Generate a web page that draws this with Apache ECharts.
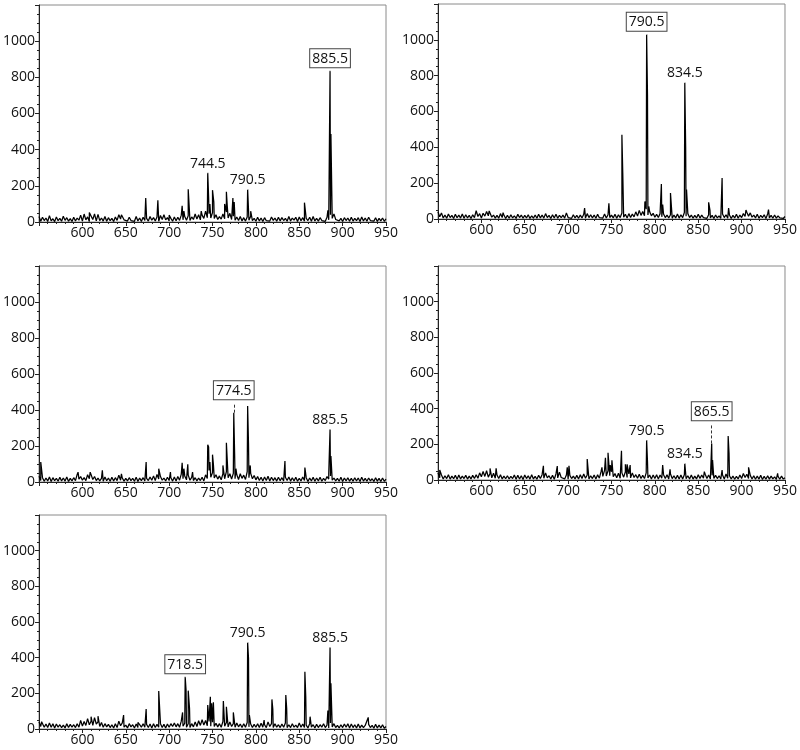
<!DOCTYPE html>
<html>
<head>
<meta charset="utf-8">
<script src="https://cdn.jsdelivr.net/npm/echarts@6/dist/echarts.min.js"></script>
<style>html,body{margin:0;padding:0;background:#fff}#c{width:800px;height:750px}</style>
</head>
<body>
<div id="c"></div>
<script>
// m/z axis and intensity axis
const mzMin = 550, mzMax = 950, mzStep = 50;
const intMin = 0, intMax = 1200, intStep = 200;
const baseStart = 550, baseStep = 2;

// Baseline noise, one value every 2 m/z from 550 to 950
const base1 = [
30,4,26,8,22,3,35,6,18,2,28,7,20,4,32,9,24,5,19,3,
26,6,22,10,38,5,44,12,28,3,50,14,24,6,42,8,22,5,30,4,
24,7,20,3,28,9,40,16,44,12,22,5,26,8,18,4,30,6,22,3,
26,8,20,5,30,10,24,6,28,4,36,14,40,12,24,6,20,4,28,7,
26,9,38,12,30,10,34,8,28,14,44,16,40,12,38,20,60,24,46,22,
52,20,40,14,30,16,44,18,55,22,48,14,32,10,28,8,30,6,24,5,
28,10,32,8,20,4,26,6,22,3,24,7,18,5,28,9,22,4,26,6,
24,8,20,4,30,6,22,10,26,3,28,7,24,5,20,8,26,4,30,6,
20,5,24,8,18,4,26,12,40,20,45,14,24,6,20,3,24,8,22,4,
26,5,20,7,24,3,28,6,22,4,26,8,18,5,24,3,20,6,22,4,
18];
const base2 = [
40,12,34,6,22,4,28,8,20,3,26,7,22,5,28,4,24,6,20,3,
24,8,46,14,30,6,32,16,42,18,36,10,22,5,20,4,30,8,22,3,
20,4,24,6,18,3,26,8,22,4,20,6,24,3,18,5,22,4,26,6,
22,5,30,8,20,3,24,6,26,4,20,7,22,5,34,8,18,4,24,6,
20,4,22,6,26,5,30,8,24,6,22,4,26,7,18,5,28,6,24,8,
22,6,26,4,24,8,34,10,26,6,30,8,28,12,40,16,48,20,42,18,
55,22,40,18,32,10,26,8,30,12,28,8,22,6,24,4,22,6,28,5,
24,8,36,16,30,8,22,4,20,6,26,5,22,8,18,4,24,6,20,3,
22,6,18,4,28,8,24,5,22,3,20,6,26,4,22,8,30,14,38,16,
34,10,22,6,26,4,20,8,24,3,28,6,20,4,22,5,18,6,16,3,
14];
const base3 = [
32,8,24,4,22,6,28,3,24,7,20,4,26,6,22,5,28,3,20,6,
24,8,42,16,30,10,24,8,40,18,44,14,30,8,22,6,20,4,28,7,
22,4,26,6,24,8,38,10,22,5,20,6,24,8,20,4,26,3,22,8,
24,6,20,8,28,10,34,8,42,16,30,10,22,6,26,8,24,5,28,6,
30,10,44,18,34,12,38,10,26,8,24,6,22,8,26,6,40,20,64,26,
52,22,40,16,34,12,46,18,58,24,46,16,48,18,40,14,46,20,38,14,
58,24,48,18,36,12,30,8,26,6,28,8,32,6,26,8,24,5,26,7,
24,6,26,8,28,5,24,6,26,4,20,6,28,8,24,3,22,6,26,4,
22,6,26,4,20,8,30,16,34,10,22,6,20,4,26,3,22,6,24,5,
20,4,24,6,22,3,26,5,20,4,22,6,18,3,24,5,20,3,22,4,
16];
const base4 = [
40,12,28,6,24,8,30,5,22,7,26,4,28,6,22,8,26,5,22,6,
26,8,30,10,40,18,48,20,52,16,36,12,38,10,28,8,30,6,22,7,
24,6,20,8,28,4,26,6,24,3,28,8,24,5,30,6,20,4,26,8,
30,10,40,12,24,6,26,4,34,12,44,14,24,6,28,5,26,8,22,6,
26,6,30,8,34,10,28,6,24,8,28,6,30,10,48,20,54,22,52,24,
46,18,36,12,38,10,40,16,46,14,34,12,40,14,30,10,32,8,26,8,
40,12,28,6,28,8,30,5,28,10,30,8,30,6,34,8,24,6,26,5,
28,6,30,8,24,6,28,5,22,6,30,8,28,10,32,8,28,6,26,8,
26,8,24,6,28,5,34,10,24,6,22,4,20,6,28,8,36,14,32,8,
26,6,24,4,22,5,26,3,20,4,24,5,22,6,18,3,20,4,22,5,
12];
const base5 = [
40,14,36,10,28,8,34,10,30,6,28,10,24,8,22,6,30,8,26,10,
24,8,30,10,48,16,42,20,58,24,44,20,64,28,40,14,36,10,30,12,
26,8,24,6,30,8,44,18,34,10,22,6,30,12,24,6,28,8,24,10,
30,10,26,8,28,6,30,8,26,10,30,8,26,6,28,10,30,14,34,12,
30,10,44,16,32,10,30,8,30,12,40,14,46,20,52,22,48,18,42,16,
38,14,32,12,30,10,42,16,36,12,40,14,30,10,34,12,28,8,30,10,
36,12,28,8,26,10,30,8,32,10,24,8,40,14,30,8,30,10,24,8,
28,10,34,8,24,8,30,10,22,8,34,10,28,8,22,6,30,10,24,6,
26,8,24,10,30,8,22,6,34,12,30,8,20,6,24,8,28,10,30,6,
28,8,24,6,28,6,22,8,20,10,26,8,20,4,26,6,22,6,24,4,
14];

// Peaks [m/z, intensity]
const peaks1 = [[599,42],[608,52],[614,45],[645,40],[673,133],[687,120],[700,38],[715,89],[717,60],[722,181],[737,60],[744.5,272],[745.5,140],[747,100],[750,176],[751.5,110],[764,100],[766,167],[767,90],[773.5,133],[775,110],[790.5,181],[794,60],[810,35],[856,107],[883,65],[885.5,837],[886.5,487],[887.5,172]];
const peaks2 = [[595,50],[609,45],[625,35],[719,61],[747,87],[762,470],[763,257],[788.5,98],[790.5,1031],[791.5,693],[793,70],[794.5,50],[807.5,195],[809,80],[818,145],[834.5,762],[835.5,402],[836.5,164],[862,93],[863.5,50],[877.5,229],[885,61],[905,50],[931,52]];
const peaks3 = [[552,111],[595,55],[609,55],[623,65],[645,45],[673.5,111],[688,74],[701.5,55],[715,107],[717,74],[721.5,98],[727,55],[744.5,207],[745.5,194],[747,111],[750,152],[751,100],[762,92],[766,218],[774.5,385],[775.5,157],[777,74],[790.5,422],[791.5,213],[793.5,92],[795,55],[833.5,117],[856.5,80],[884,46],[885.5,293],[886.5,144]];
const peaks4 = [[552,56],[610,65],[617,65],[671.5,80],[687.5,78],[699,71],[701,80],[715.5,37],[722,118],[739,71],[743,125],[746,153],[748.5,84],[750.5,110],[761.5,164],[766,88],[768,88],[771.5,84],[790.5,224],[791.5,103],[809,84],[817.5,60],[834.5,93],[857,47],[865.5,205],[866.5,112],[877.5,56],[884.5,247],[885.5,150],[908,71],[941.5,37]];
const peaks5 = [[553,41],[610,69],[618,72],[647.5,78],[664,37],[673.5,112],[688,213],[715.5,93],[718.5,293],[719.5,219],[722,215],[723.5,116],[739.5,60],[744.5,135],[747.5,181],[749,144],[751,150],[762.5,157],[766,125],[774,93],[790.5,486],[791.5,396],[792.5,78],[809.5,50],[818.5,166],[819.5,112],[834.5,191],[835.5,116],[856.5,321],[857.5,181],[862.5,69],[883,103],[885.5,458],[886.5,256],[929.5,65]];

// Annotated peaks (m/z labels) and the boxed main ion of each panel
const labels1 = ['885.5','744.5','790.5'];
const labels2 = ['790.5','834.5'];
const labels3 = ['774.5','885.5'];
const labels4 = ['790.5','834.5','865.5'];
const labels5 = ['718.5','790.5','885.5'];
const boxed1 = '885.5', boxed2 = '790.5', boxed3 = '774.5', boxed4 = '865.5', boxed5 = '718.5';
// Raised box height (intensity units) for dashed leader lines
const lifted3 = {'774.5': 440};
const lifted4 = {'865.5': 315};

const FONT = '"Open Sans", "DejaVu Sans", sans-serif';
const TXT = '#111';

const grids = [
  {left:37, top:5, width:349, height:217},
  {left:438, top:4, width:349, height:215},
  {left:37, top:266, width:349, height:216},
  {left:438, top:266, width:349, height:214},
  {left:37, top:515, width:349, height:214}
];
const panels = [
  {base:base1, peaks:peaks1, labels:labels1, boxed:boxed1, lifted:{}},
  {base:base2, peaks:peaks2, labels:labels2, boxed:boxed2, lifted:{}},
  {base:base3, peaks:peaks3, labels:labels3, boxed:boxed3, lifted:lifted3},
  {base:base4, peaks:peaks4, labels:labels4, boxed:boxed4, lifted:lifted4},
  {base:base5, peaks:peaks5, labels:labels5, boxed:boxed5, lifted:{}}
];

function buildLine(base, peaks){
  const pts = base.map((v,i)=>[baseStart + baseStep*i, v]);
  peaks.forEach(p=>pts.push([p[0], p[1]]));
  pts.sort((a,b)=>a[0]-b[0]);
  return pts;
}

const option = {
  animation:false,
  backgroundColor:'#fff',
  grid: grids.map(g=>Object.assign({show:true, borderColor:'#8a8a8a', borderWidth:1, backgroundColor:'transparent'}, g)),
  xAxis: grids.map((g,i)=>({
    type:'value', gridIndex:i, min:mzMin, max:mzMax, interval:mzStep,
    axisLine:{show:true, lineStyle:{color:'#222', width:1}},
    axisTick:{show:true, length:4, lineStyle:{color:'#222'}},
    minorTick:{show:true, splitNumber:5, length:2, lineStyle:{color:'#222'}},
    axisLabel:{showMinLabel:false, fontSize:14, margin:4, color:TXT, fontFamily:FONT,
      formatter:v=>String(v)},
    splitLine:{show:false}
  })),
  yAxis: grids.map((g,i)=>({
    type:'value', gridIndex:i, min:intMin, max:intMax, interval:intStep,
    axisLine:{show:true, lineStyle:{color:'#222', width:1}},
    axisTick:{show:true, length:4, lineStyle:{color:'#222'}},
    minorTick:{show:true, splitNumber:4, length:2, lineStyle:{color:'#222'}},
    axisLabel:{showMaxLabel:false, fontSize:14, margin:4, color:TXT, fontFamily:FONT,
      formatter:v=>String(v)},
    splitLine:{show:false}
  })),
  series: []
};

panels.forEach((p,i)=>{
  option.series.push({
    type:'line', xAxisIndex:i, yAxisIndex:i, data:buildLine(p.base, p.peaks),
    showSymbol:false, symbol:'none', silent:true, sampling:null,
    lineStyle:{color:'#000', width:1.25}
  });
  const annData = [];
  const leaders = [];
  p.labels.forEach(t=>{
    const mz = parseFloat(t);
    const pk = p.peaks.find(q=>q[0]===mz);
    const top = pk ? pk[1] : 0;
    const isBox = (t === p.boxed);
    const hasLift = p.lifted[t] !== undefined;
    const y = hasLift ? p.lifted[t] : top;
    if (hasLift) leaders.push([{coord:[mz, top]},{coord:[mz, y]}]);
    annData.push({
      value:[mz, y],
      label:{
        show:true, formatter:t, position:'top', distance: isBox ? 3 : 1,
        fontSize:14, fontFamily:FONT, color:TXT, lineHeight:15, opacity:1,
        textBorderWidth:0,
        padding: isBox ? [2,2,1,2] : 0,
        borderColor: isBox ? '#444' : 'transparent', borderWidth: isBox ? 1 : 0,
        backgroundColor: isBox ? '#fff' : 'transparent'
      }
    });
  });
  option.series.push({
    type:'scatter', xAxisIndex:i, yAxisIndex:i, data:annData, symbol:'circle', symbolSize:1,
    itemStyle:{color:'#fff', opacity:1}, silent:true, z:5,
    markLine: leaders.length ? {
      silent:true, symbol:['none','none'], animation:false,
      lineStyle:{type:[3,2], color:'#333', width:1},
      label:{show:false}, data:leaders
    } : undefined
  });
});

const chart = echarts.init(document.getElementById('c'), null, {renderer:'canvas'});
chart.setOption(option);
</script>
</body>
</html>
